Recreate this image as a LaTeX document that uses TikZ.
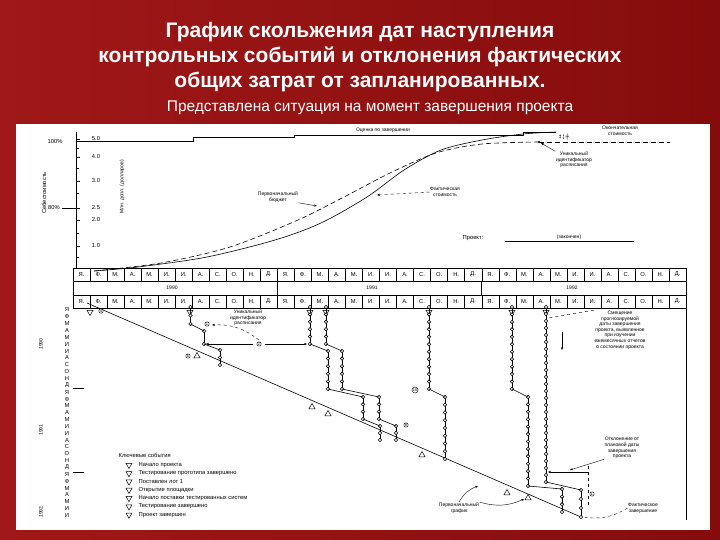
\documentclass[tikz,border=0pt]{standalone}
\usepackage{fontspec}
\setmainfont{Liberation Sans}
\usetikzlibrary{arrows.meta,shapes.geometric}
\definecolor{bgred}{HTML}{850C0C}
\definecolor{bgred2}{HTML}{A01818}
\tikzset{
  tiny/.style={font=\fontsize{5}{5.6}\selectfont, align=center, inner sep=0.5pt},
  sm/.style={font=\fontsize{5.8}{6.5}\selectfont, inner sep=0.5pt},
  dot/.style={circle, draw, fill=white, inner sep=0pt, minimum size=3.4pt, line width=0.6pt},
  tri/.style={regular polygon, regular polygon sides=3, shape border rotate=180, draw, inner sep=0pt, minimum size=7pt, line width=0.5pt},
  ln/.style={line width=0.6pt},
}
\newcommand\chn[3]{%
  \draw[ln] (#1,#2)--(#1,#3);
  \pgfmathtruncatemacro\nn{max(1,(#3-#2)/7)}%
  \foreach \k in {0,...,\nn}{\node[dot] at (#1,{#2+\k*(#3-#2)/\nn}) {};}%
}
\begin{document}
\begin{tikzpicture}[x=1pt,y=-1pt]
\useasboundingbox (0,0) rectangle (720,540);
\shade[left color=bgred2, right color=bgred] (0,0) rectangle (720,540);
% title
\node[text=white, font=\bfseries\fontsize{21}{25}\selectfont, align=center] (title) at (360,57)
  {График скольжения дат наступления\\контрольных событий и отклонения фактических\\общих затрат от запланированных.};
\node[text=white, font=\fontsize{15.5}{18}\selectfont] (sub) at (370,108) {Представлена ситуация на момент завершения проекта};
% white panel
\fill[white] (16,124) rectangle (710,530);
% ---------- top chart
\draw[ln] (76,132)--(76,268);
\foreach \y/\t in {139/5.0,157/4.0,181/3.0,208/2.5,220/2.0,246/1.0}{
  \node[sm] at (96,\y) {\t}; \draw[ln] (76,\y)--(80,\y);}
\foreach \y in {148,168,193,233,257}{\draw (76,\y)--(79,\y);}
\node[sm] at (55,142) {100\%};
\node[sm] at (54,208) {80\%};
\draw (62,208)--(76,208);
\node[sm, rotate=90] at (44,193) {Себестоимость};
\node[tiny, rotate=90] at (122,187) {Млн. долл. (долларов)};
% step line
\draw[ln] (76,141)--(193,141)--(193,137)--(294,137)--(294,135)--(523,135)--(523,132)--(556,132);
\node[tiny] at (383,130) {Оценка по завершении};
\node[tiny] at (620,131) {Окончательная\\стоимость};
% curves
\draw[ln] plot[smooth] coordinates {(94,271) (138,267) (207,257) (275,240) (321,223) (367,197) (404,170) (441,150) (482,140) (523,134) (556,132)};
\draw[ln, dash pattern=on 5pt off 3pt] plot[smooth] coordinates {(94,271) (161,263) (230,247) (298,220) (344,197) (390,173) (436,153) (482,144) (539,142)};
\draw[ln, dash pattern=on 5pt off 3pt] (539,142)--(670,142);
\fill (539,142) circle (1.2pt);
\node[tiny] (uid) at (574,160) {Уникальный\\идентификатор\\расписания};
\draw[-{Stealth[length=3pt]}] (uid.north west)--(541,143);
\node[tiny] (pb) at (278,197) {Первоначальный\\бюджет};
\draw[-{Stealth[length=3pt]}] (pb.south east)--(317,206);
\node[tiny] (fs) at (445,192) {Фактическая\\стоимость};
\draw[dashed,-{Stealth[length=3pt]}] (fs.west)--(377,195);
\node[tiny] at (564,137) {\bfseries ‡ ¦ ╪};
\node[sm] at (473,238) {Проект:};
\draw (505,241)--(634,241);
\node[tiny] at (569,237) {(закончен)};
% month rows
\draw[ln] (73,268) rectangle (686,308);
\draw[ln] (73,281)--(686,281) (73,295)--(686,295);
\foreach \yr in {0,1,2}{
  \foreach \m [count=\c from 0] in {Я.,Ф.,М.,А.,М.,И.,И.,А.,С.,О.,Н.,Д.}{
    \pgfmathsetmacro\xx{73+(12*\yr+\c)*17.03}
    \draw (\xx,268)--(\xx,281) (\xx,295)--(\xx,308);
    \node[sm] at (\xx+8.5,274.5) {\m};
    \node[sm] at (\xx+8.5,301.5) {\m};
  }}
\draw[ln] (277,281)--(277,295) (481,281)--(481,295);
\node[tiny] at (172,288) {1990};
\node[tiny] at (372,288) {1991};
\node[tiny] at (572,288) {1992};
% ---------- lower chart
\draw (686,308)--(686,520);
\foreach \l [count=\c from 0] in {Я,Ф,М,А,М,И,И,А,С,О,Н,Д,Я,Ф,М,А,М,И,И,А,С,О,Н,Д,Я,Ф,М,А,М,И,И}{
  \node[sm] at (67,{310+\c*6.85}) {\l};}
\node[tiny, rotate=90] at (41,344) {1990};
\node[tiny, rotate=90] at (41,430) {1991};
\node[tiny, rotate=90] at (41,512) {1992};
\draw (73,388)--(84,388) (73,472)--(84,472);
% diagonal
\coordinate (d0) at (87,303);
\coordinate (d1) at (581,517);
\draw[ln] (d0)--(d1);
% top milestones
\foreach \x in {90,190,310,326,429,512,546}{\node[tri] at (\x,312) {};}
% chains
\chn{190.5}{307}{324}
\chn{204}{331}{344}
\chn{220}{350}{365}
\draw[ln] (190.5,324)--(204,331) (204,344)--(220,350);
\chn{310}{307}{344}
\chn{328}{351}{389}
\chn{363}{397}{419}
\chn{380}{426}{440}
\draw[ln] (310,344)--(328,351) (328,389)--(363,397) (363,419)--(380,426);
\chn{326}{307}{344}
\chn{342}{351}{389}
\chn{379}{397}{419}
\chn{396}{426}{440}
\draw[ln] (326,344)--(342,351) (342,389)--(379,397) (379,419)--(396,426);
\chn{429}{307}{389}
\chn{445}{397}{459}
\draw[ln] (429,389)--(445,397);
\chn{512}{307}{389}
\chn{528}{397}{486}
\chn{562}{489}{512}
\draw[ln] (512,389)--(528,397) (528,486)--(562,489);
\chn{546}{307}{482}
\chn{581}{490}{517}
\draw[ln] (546,482)--(581,490);
% circled labels
\foreach \x/\y/\t in {101/311/4,207/324/1,259/344/2,188/356/5,406/425/8,415/390/10,592/494/L}{
  \node[circle, draw, fill=white, inner sep=0.3pt, font=\fontsize{4}{4}\selectfont] at (\x,\y) {\t};}
% milestone triangles on diagonal
\foreach \x/\y in {197/356,312/407,328/414,422/455,507/493,528/498}{\node[tri, shape border rotate=0] at (\x,\y) {};}
\node[tiny] (uid2) at (248,318) {Уникальный\\идентификатор\\расписания};
\draw[dashed,-{Stealth[length=3pt]}] (259,340) to[bend right=20] (212,325);
\draw[-{Stealth[length=3pt]}] (253,344)--(206,344);
\draw[-{Stealth[length=3pt]}] (265,344)--(307,344);
% right annotations
\node[tiny] (shift) at (620,330) {Смещение\\прогнозируемой\\даты завершения\\проекта, выявленное\\при изучении\\ежемесячных отчетов\\о состоянии проекта};
\draw[dashed] (shift.north west)--(548,318);
\draw[-{Stealth[length=3pt]}] (562,332)--(562,350);
\node[tiny] (dev) at (622,448) {Отклонение от\\плановой даты\\завершения\\проекта};
\draw[-{Stealth[length=3pt]}] (588,472)--(548,472);
\draw[dashed] (588,466)--(588,505);
\draw[-{Stealth[length=3pt]}] (dev.south west)--(570,470);
\node[tiny] (pg) at (459,508) {Первоначальный\\график};
\draw[-{Stealth[length=3pt]}] (pg.north) to[bend left=20] (478,486);
\draw[-{Stealth[length=3pt]}] (pg.north east) to[bend right=20] (524,499);
\node[tiny] (fz) at (643,508) {Фактическое\\завершение};
\draw[dashed] (fz.west) to[bend left=20] (583,517);
% legend
\node[sm, anchor=west] at (118,455) {Ключевые события};
\foreach \t [count=\c from 0] in {Начало проекта,Тестирование прототипа завершено,Поставлен лот 1,Открытие площадки,Начало поставки тестированных систем,Тестирование завершено,Проект завершен}{
  \node[tri] at (129,{465+\c*8.3}) {};
  \node[sm, anchor=west] at (138,{465+\c*8.3}) {\t};}
\end{tikzpicture}
\end{document}
